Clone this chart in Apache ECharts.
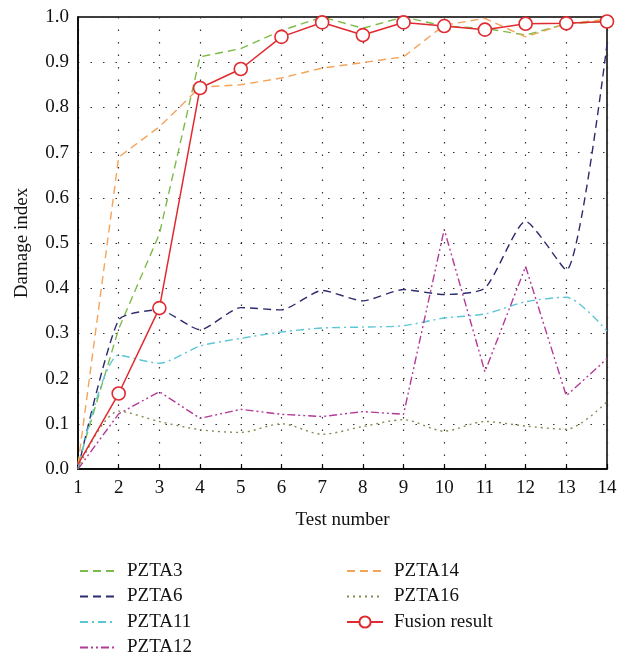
<!DOCTYPE html>
<html>
<head>
<meta charset="utf-8">
<script src="https://cdn.jsdelivr.net/npm/echarts@6/dist/echarts.min.js"></script>
<style>
  html, body { margin: 0; padding: 0; background: #fff; }
  #chart { width: 629px; height: 659px; }
</style>
</head>
<body>
<div id="chart"></div>
<script>
const testNumbers = [1, 2, 3, 4, 5, 6, 7, 8, 9, 10, 11, 12, 13, 14];

const pzta3  = [0.01, 0.31, 0.52, 0.912, 0.93, 0.97, 1.0, 0.975, 1.0, 0.98, 0.975, 0.96, 0.985, 0.99];
const pzta6  = [0.0, 0.33, 0.352, 0.308, 0.357, 0.352, 0.395, 0.372, 0.397, 0.386, 0.4, 0.548, 0.44, 0.94];
const pzta11 = [0.0, 0.252, 0.234, 0.272, 0.289, 0.303, 0.312, 0.314, 0.317, 0.334, 0.343, 0.37, 0.38, 0.305];
const pzta12 = [0.0, 0.122, 0.171, 0.112, 0.132, 0.121, 0.116, 0.127, 0.121, 0.53, 0.215, 0.448, 0.162, 0.244];
const pzta14 = [0.01, 0.69, 0.757, 0.845, 0.85, 0.865, 0.887, 0.899, 0.912, 0.982, 0.997, 0.956, 0.985, 0.995];
const pzta16 = [0.0, 0.128, 0.105, 0.087, 0.081, 0.1, 0.077, 0.094, 0.109, 0.084, 0.105, 0.095, 0.088, 0.149];
const fusion = [0.01, 0.167, 0.356, 0.843, 0.885, 0.956, 0.988, 0.96, 0.988, 0.98, 0.972, 0.985, 0.986, 0.99];

const yTicks = [0, 0.1, 0.2, 0.3, 0.4, 0.5, 0.6, 0.7, 0.8, 0.9, 1.0];

const FONT = "'Liberation Serif', 'DejaVu Serif', serif";
const pair = ys => testNumbers.map((x, i) => [x, ys[i]]);

const lineSeries = (name, ys, color, dash, smooth) => ({
  name, type: "line", data: pair(ys),
  symbol: "none", smooth: smooth || false,
  lineStyle: { color, width: 1.4, type: dash },
  itemStyle: { color },
  z: 2,
});

// legend entries: plain lines have no marker
const legendItem = name => name === "Fusion result" ? { name } : { name, itemStyle: { opacity: 0 } };
const legendBase = {
  orient: "vertical", top: 561, height: 98, padding: 0,
  itemWidth: 36, itemHeight: 14, itemGap: 5.5,
  textStyle: { fontFamily: FONT, fontSize: 19, lineHeight: 20, color: "#111", padding: [0, 0, 0, 6] },
};

const chart = echarts.init(document.getElementById("chart"));
chart.setOption({
  backgroundColor: "#fff",
  animation: false,
  textStyle: { fontFamily: FONT },
  grid: {
    left: 78, right: 22, top: 17, bottom: 190,
    show: true, borderColor: "#000", borderWidth: 1.5, backgroundColor: "transparent",
  },
  legend: [
    { ...legendBase, left: 79, data: ["PZTA3", "PZTA6", "PZTA11", "PZTA12"].map(legendItem) },
    { ...legendBase, left: 346, data: ["PZTA14", "PZTA16", "Fusion result"].map(legendItem) },
  ],
  xAxis: {
    type: "value", min: 1, max: 14, interval: 1,
    name: "Test number", nameLocation: "middle", nameGap: 42,
    nameTextStyle: { fontFamily: FONT, fontSize: 19, color: "#111" },
    axisLine: { show: true, lineStyle: { color: "#000", width: 1.5 } },
    axisTick: { show: true, inside: true, length: 5, lineStyle: { color: "#000", width: 1.2 } },
    axisLabel: { fontFamily: FONT, fontSize: 19, color: "#111", margin: 10 },
    splitLine: { show: true, lineStyle: { color: "#333", width: 1.2, type: [1.5, 11] } },
  },
  yAxis: {
    type: "value", min: 0, max: 1, interval: 0.1,
    name: "Damage index", nameLocation: "middle", nameGap: 46,
    nameTextStyle: { fontFamily: FONT, fontSize: 19, color: "#111" },
    axisLine: { show: true, lineStyle: { color: "#000", width: 1.5 } },
    axisTick: { show: false },
    axisLabel: {
      fontFamily: FONT, fontSize: 19, color: "#111", margin: 9,
      formatter: v => yTicks.some(t => Math.abs(t - v) < 1e-6) ? v.toFixed(1) : "",
    },
    splitLine: { show: true, lineStyle: { color: "#333", width: 1.2, type: [1.5, 11] } },
  },
  series: [
    lineSeries("PZTA3",  pzta3,  "#7dbb48", [8, 5]),
    lineSeries("PZTA6",  pzta6,  "#2d2b6e", [8, 5], 0.2),
    lineSeries("PZTA11", pzta11, "#5cc6d6", [8, 4, 2, 4], 0.25),
    lineSeries("PZTA12", pzta12, "#b23a98", [8, 3, 2, 3, 2, 3]),
    lineSeries("PZTA14", pzta14, "#f4a45a", [8, 5]),
    lineSeries("PZTA16", pzta16, "#8a8a55", [2, 4], 0.3),
    {
      name: "Fusion result", type: "line",
      data: pair(fusion).map((p, i) => i === 0 ? { value: p, symbol: "none" } : p),
      symbol: "circle", symbolSize: 13, showAllSymbol: true,
      lineStyle: { color: "#e02a2f", width: 1.5, type: "solid" },
      itemStyle: { color: "#fff", borderColor: "#e02a2f", borderWidth: 1.6 },
      z: 5,
    },
  ],
});
</script>
</body>
</html>
